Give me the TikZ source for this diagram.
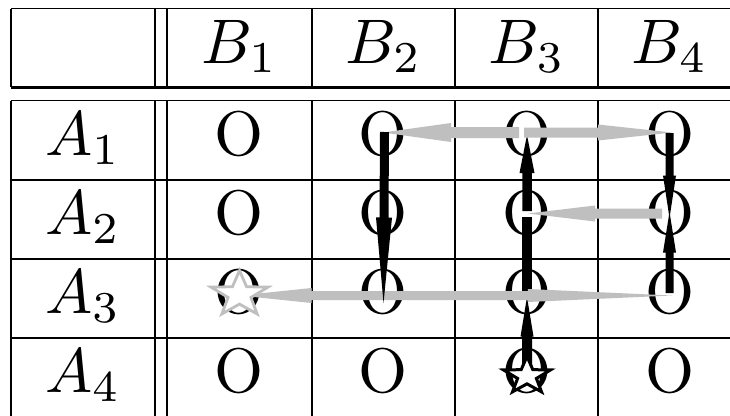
\documentclass[tikz,border=0pt]{standalone}
\usetikzlibrary{calc}
\definecolor{movegray}{RGB}{191,191,191}
\tikzset{
  rule/.style={line width=1.8pt},
  cellmark/.style={anchor=base, inner sep=0pt, font=\normalsize, scale=6.3},
  graymove/.style={fill=movegray},
  blackmove/.style={fill=black},
}
% tapered arrow: #1 style, #2 tail, #3 tip, #4 shaft half width, #5 head half width
\newcommand\taperarrow[5]{%
  \path (#2) -- (#3) coordinate[pos=0.5] (hb);
  \fill[#1] ($(#2)!#4!90:(#3)$) -- ($(hb)!#4!90:(#3)$) -- ($(hb)!#5!90:(#3)$) -- (#3)
    -- ($(hb)!#5!-90:(#3)$) -- ($(hb)!#4!-90:(#3)$) -- ($(#2)!#4!-90:(#3)$) -- cycle;
}
% five-pointed outline star: #1 style, #2 centre, #3 x radius, #4 y radius
\newcommand\starmark[4]{%
  \begin{scope}[shift={(#2)}, xscale=#3, yscale=-#4]
    \draw[#1] (90:1) -- (126:0.4) -- (162:1) -- (198:0.4) -- (234:1) -- (270:0.4)
      -- (306:1) -- (342:0.4) -- (18:1) -- (54:0.4) -- cycle;
  \end{scope}
}
\begin{document}
\begin{tikzpicture}[x=1pt, y=-1pt]
\useasboundingbox (0,0) rectangle (730,415);
\fill[white] (0,0) rectangle (730,415);
\clip (0,0) rectangle (730,415);

% header table
\draw[rule] (11,8.5) -- (740,8.5);
\draw[rule, line width=3pt] (11,87.3) -- (740,87.3);
\foreach \x in {11,155,167,312,455,598} \draw[rule] (\x,8.5) -- (\x,87);

% body table
\foreach \y in {100.5,180,259,338} \draw[rule] (11,\y) -- (740,\y);
\foreach \x in {11,155,167,312,455,598} \draw[rule] (\x,100.5) -- (\x,420);

% column and row labels
\node[cellmark] (hB1) at (239.5,63.5) {$B_1$};
\node[cellmark] (hB2) at (383.5,63.5) {$B_2$};
\node[cellmark] (hB3) at (527,63.5) {$B_3$};
\node[cellmark] (hB4) at (669.5,63.5) {$B_4$};
\node[cellmark] (hA1) at (83,155.5) {$A_1$};
\node[cellmark] (hA2) at (83,234.5) {$A_2$};
\node[cellmark] (hA3) at (83,313.5) {$A_3$};
\node[cellmark] (hA4) at (83,392.5) {$A_4$};

% cell entries
\foreach \r/\y in {1/155.5,2/234.5,3/313.5,4/392.5}
  \foreach \c/\x in {1/239.5,2/383.5,3/527,4/669.5}
    \node[cellmark] (o\r\c) at (\x,\y) {O};

% arrow end points
\coordinate (g1s) at (519,132.5);   \coordinate (g1e) at (383,132.5);
\coordinate (g2s) at (524,132.5);   \coordinate (g2e) at (672,132.5);
\coordinate (g3s) at (662,213.5);   \coordinate (g3e) at (528,213.5);
\coordinate (g4s) at (383.5,295.5); \coordinate (g4e) at (239.5,295.5);
\coordinate (g5e) at (672,295.5);
\coordinate (k1s) at (384.5,132);   \coordinate (k1e) at (383.5,303);
\coordinate (k3as) at (527,376);    \coordinate (k3ae) at (527,297);
\coordinate (k3bs) at (527,295);    \coordinate (k3be) at (527,217);
\coordinate (k3cs) at (527,211);    \coordinate (k3ce) at (527,135);
\coordinate (k4as) at (669.5,133);  \coordinate (k4ae) at (669.5,218);
\coordinate (k4bs) at (669.5,293);  \coordinate (k4be) at (669.5,212);
\coordinate (sA) at (527,376);
\coordinate (sB) at (239.5,294.5);

% column B3 moves
\taperarrow{blackmove}{k3as}{k3ae}{5pt}{6.5pt}
\draw[line width=10pt] (k3bs) -- (k3be);
\taperarrow{blackmove}{k3cs}{k3ce}{4.75pt}{7.5pt}

% horizontal moves
\taperarrow{graymove}{g1s}{g1e}{5.5pt}{9.5pt}
\taperarrow{graymove}{g2s}{g2e}{5pt}{8pt}
\taperarrow{graymove}{g3s}{g3e}{5pt}{8pt}
\taperarrow{graymove}{g4s}{g4e}{4.5pt}{7.5pt}
\taperarrow{graymove}{g4s}{g5e}{4.5pt}{6.5pt}

% columns B2 and B4 moves
\taperarrow{blackmove}{k1s}{k1e}{4.5pt}{8pt}
\taperarrow{blackmove}{k4as}{k4ae}{4pt}{6.5pt}
\taperarrow{blackmove}{k4bs}{k4be}{4pt}{6.5pt}

% end points of the path
\starmark{draw=black, fill=white, line width=3pt}{sA}{24.7}{19.6}
\starmark{draw=movegray, fill=white, line width=2.8pt}{sB}{30}{24}
\end{tikzpicture}
\end{document}
